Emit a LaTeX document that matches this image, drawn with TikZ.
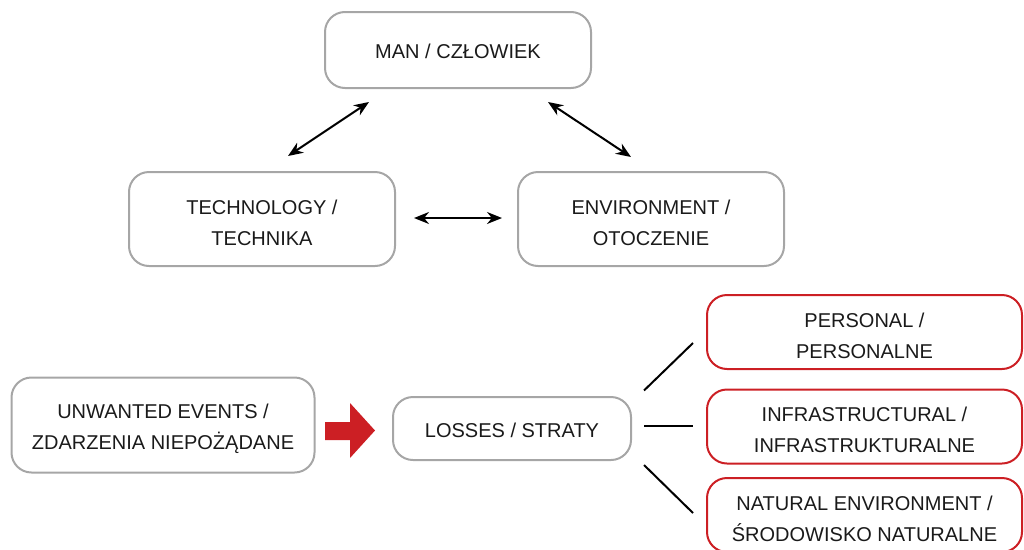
\documentclass[tikz,border=0pt]{standalone}
\usepackage{fontspec}
\setmainfont{Liberation Sans}
\usetikzlibrary{arrows.meta}
\definecolor{boxgray}{HTML}{A6A6A6}
\definecolor{lossred}{HTML}{CC1F24}
\definecolor{ink}{HTML}{1A1A1A}

\begin{document}
\begin{tikzpicture}[x=1pt,y=-1pt,
    box/.style={draw=boxgray, line width=2pt, rounded corners=20pt, align=center,
        text=ink, text height=18pt, font=\fontsize{20}{31}\selectfont},
    twoline/.style={text height=53pt},
    lossbox/.style={box, twoline, draw=lossred, minimum width=315pt, minimum height=74pt},
    both/.style={{Stealth[length=15pt,width=12pt]}-{Stealth[length=15pt,width=12pt]}, line width=2pt},
    link/.style={line width=2pt}]
    \clip (0,0) rectangle (1024,549);
    % man, technology, environment
    \node[box, minimum width=266pt, minimum height=76pt] (man) at (458,50) {MAN / CZŁOWIEK};
    \node[box, twoline, minimum width=266pt, minimum height=94pt] (tech) at (262,219) {TECHNOLOGY /\\TECHNIKA};
    \node[box, twoline, minimum width=266pt, minimum height=94pt] (env) at (651,219) {ENVIRONMENT /\\OTOCZENIE};
    \draw[both] ([shift={(26,-15)}]tech.north) -- ([shift={(-89,13)}]man.south);
    \draw[both] ([shift={(90,13)}]man.south) -- ([shift={(-20,-14)}]env.north);
    \draw[both] ([shift={(18,-1)}]tech.east) -- ([shift={(-15,-1)}]env.west);
    % events and losses
    \node[box, twoline, minimum width=303pt, minimum height=95pt] (events) at (163,425) {UNWANTED EVENTS /\\ZDARZENIA NIEPOŻĄDANE};
    \node[box, minimum width=238pt, minimum height=63pt] (losses) at (512,428.5) {LOSSES / STRATY};
    \fill[lossred] (325,422) -- (350,422) -- (350,403) -- (375,430.5) -- (350,458) -- (350,440) -- (325,440) -- cycle;
    \node[lossbox] (personal) at (864.5,332) {PERSONAL /\\PERSONALNE};
    \node[lossbox] (infra) at (864.5,426.5) {INFRASTRUCTURAL /\\INFRASTRUKTURALNE};
    \node[lossbox] (natural) at (864.5,515) {NATURAL ENVIRONMENT /\\ŚRODOWISKO NATURALNE};
    \draw[link] ([shift={(12,-38)}]losses.east) -- ([shift={(-13,11)}]personal.west);
    \draw[link] ([shift={(12,-2.5)}]losses.east) -- ([shift={(-13,-0.5)}]infra.west);
    \draw[link] ([shift={(12,36.5)}]losses.east) -- ([shift={(-13,-2)}]natural.west);
\end{tikzpicture}
\end{document}
